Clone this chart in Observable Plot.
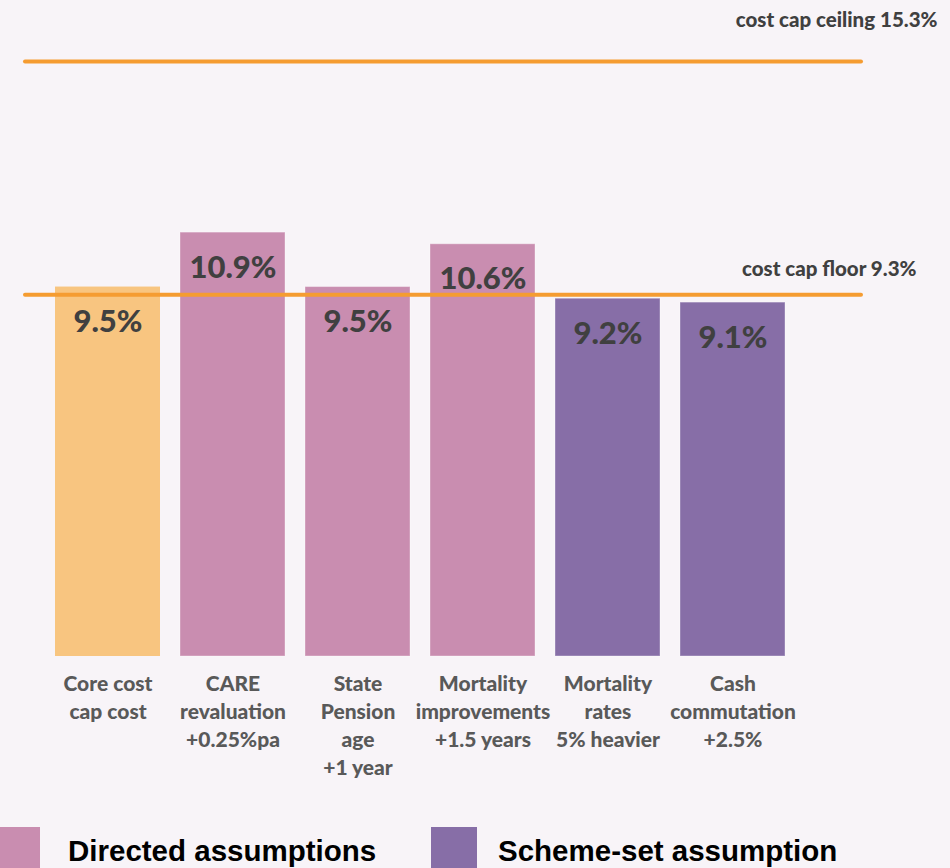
<!DOCTYPE html>
<html>
<head>
<meta charset="utf-8">
<script src="https://cdn.jsdelivr.net/npm/d3@7"></script>
<script src="https://cdn.jsdelivr.net/npm/@observablehq/plot@0.6"></script>
<style>
  html, body { margin: 0; padding: 0; background: #f8f4f8; }
  #wrap { position: relative; width: 950px; height: 868px; overflow: hidden; background: #f8f4f8; }
  #legend { position: absolute; top: 827px; left: 0; width: 950px; height: 60px; }
  .sw { position: absolute; top: 0; width: 46px; height: 46px; }
  .lt { position: absolute; top: 6px; font-family: "Liberation Sans", Arial, sans-serif; font-weight: bold; font-size: 29.5px; color: #000; white-space: nowrap; line-height: 36px; }
</style>
</head>
<body>
<div id="wrap"><div id="chart"></div><div id="legend"></div></div>
<script>
const categories = ["Core cost\ncap cost", "CARE\nrevaluation\n+0.25%pa", "State\nPension\nage\n+1 year", "Mortality\nimprovements\n+1.5 years", "Mortality\nrates\n5% heavier", "Cash\ncommutation\n+2.5%"];
const values = [9.5, 10.9, 9.5, 10.6, 9.2, 9.1];
const groups = ["Core", "Directed", "Directed", "Directed", "Scheme-set", "Scheme-set"];
const groupNames = ["Core", "Directed", "Scheme-set"];
const groupColors = ["#f8c580", "#c98db0", "#876ea7"];
const capLevels = [15.3, 9.3];
const capLabels = ["cost cap ceiling 15.3%", "cost cap floor 9.3%"];
const legendLabels = ["Directed assumptions", "Scheme-set assumption"];
const legendColors = ["#c98db0", "#876ea7"];

const data = categories.map((c, i) => ({cat: c, value: values[i], group: groups[i], label: values[i].toFixed(1) + "%"}));
const caps = capLevels.map((v, i) => ({value: v, label: capLabels[i]}));

const calibri = "Lato, 'Open Sans', sans-serif";

const chart = Plot.plot({
  width: 950,
  height: 810,
  marginLeft: 25,
  marginRight: 89,
  marginTop: 0,
  marginBottom: 0,
  style: {background: "transparent", fontFamily: calibri},
  x: {domain: categories, range: [54, 786], paddingInner: 0.163, paddingOuter: 0, axis: null},
  y: {domain: [0, 15.3], range: [656, 61], axis: null},
  color: {domain: groupNames, range: groupColors},
  marks: [
    Plot.barY(data, {x: "cat", y: "value", fill: "group", stroke: d => d.group === "Core" ? "none" : "#ffffff", strokeOpacity: 0.35, strokeWidth: 1}),
    Plot.ruleY(caps, {y: "value", stroke: "#f59c31", strokeWidth: 4, strokeLinecap: "round"}),
    Plot.text(data, {x: "cat", y: "value", text: "label", dy: 35, fontSize: 31, fontWeight: 900, fill: "#404040", fontFamily: calibri}),
    Plot.text(data, {x: "cat", y: 0, text: "cat", lineAnchor: "top", dy: 15, fontSize: 21, lineHeight: 1.333, fontWeight: 900, fill: "#595959", fontFamily: calibri}),
    Plot.text(caps, {y: "value", text: "label", frameAnchor: "right", textAnchor: "end", dx: 76, dy: -41, fontSize: 20.5, fontWeight: 900, fill: "#404040", fontFamily: calibri, filter: d => d.value === capLevels[0]}),
    Plot.text(caps, {y: "value", text: "label", frameAnchor: "right", textAnchor: "end", dx: 55, dy: -25, fontSize: 20.5, fontWeight: 900, fill: "#404040", fontFamily: calibri, filter: d => d.value === capLevels[1]})
  ]
});
document.getElementById("chart").appendChild(chart);

const lg = document.getElementById("legend");
const swX = [-6, 431];
const txX = [68, 498];
legendLabels.forEach((l, i) => {
  const s = document.createElement("div");
  s.className = "sw"; s.style.left = swX[i] + "px"; s.style.background = legendColors[i];
  lg.appendChild(s);
  const t = document.createElement("div");
  t.className = "lt"; t.style.left = txX[i] + "px"; t.textContent = l;
  lg.appendChild(t);
});
</script>
</body>
</html>
